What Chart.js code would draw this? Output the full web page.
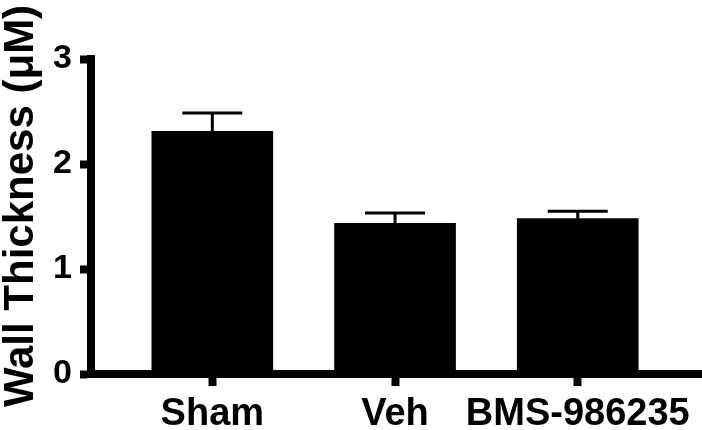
<!DOCTYPE html>
<html>
<head>
<meta charset="utf-8">
<script src="https://cdn.jsdelivr.net/npm/chart.js@4/dist/chart.umd.min.js"></script>
<style>
  html, body { margin: 0; padding: 0; background: #fff; }
</style>
</head>
<body>
<canvas id="wallChart" width="702" height="430"></canvas>
<script>
// --- data ---
const groups = ['Sham', 'Veh', 'BMS-986235'];
const means = [2.31, 1.435, 1.48];
const sem = [0.175, 0.098, 0.07];
const yTicks = [0, 1, 2, 3];
const yTitle = 'Wall Thickness (\u03bcM)';

const FONT = "'Liberation Sans', Arial, sans-serif";
Chart.defaults.color = '#000';
Chart.defaults.font.family = FONT;

// error bars (upper half only, like the prism plot)
const errorBars = {
  id: 'errorBars',
  afterDatasetsDraw(chart) {
    const ctx = chart.ctx;
    const y = chart.scales.y;
    const meta = chart.getDatasetMeta(0);
    ctx.save();
    ctx.strokeStyle = '#000';
    ctx.lineWidth = 3;
    meta.data.forEach(function(bar, i) {
      const yTop = y.getPixelForValue(means[i] + sem[i]);
      const yBar = y.getPixelForValue(means[i]);
      ctx.beginPath();
      ctx.moveTo(bar.x, yBar);
      ctx.lineTo(bar.x, yTop);
      ctx.moveTo(bar.x - 30, yTop);
      ctx.lineTo(bar.x + 30, yTop);
      ctx.stroke();
    });
    ctx.restore();
  }
};

// rotated y title, placed a bit above the axis centre as in the original
const yTitlePlugin = {
  id: 'yTitle',
  afterDraw(chart) {
    const ctx = chart.ctx;
    ctx.save();
    ctx.translate(33, 206);
    ctx.rotate(-Math.PI / 2);
    ctx.font = 'bold 42px ' + FONT;
    ctx.fillStyle = '#000';
    ctx.textAlign = 'center';
    ctx.textBaseline = 'alphabetic';
    ctx.fillText(yTitle, 0, 0);
    ctx.restore();
  }
};

new Chart(document.getElementById('wallChart'), {
  type: 'bar',
  data: {
    datasets: [{
      data: means.map(function(v, i) { return { x: i, y: v }; }),
      backgroundColor: '#000',
      borderWidth: 0,
      barThickness: 121
    }]
  },
  plugins: [errorBars, yTitlePlugin],
  options: {
    responsive: false,
    animation: false,
    layout: { padding: { left: 53, top: 59, right: 0, bottom: 0 } },
    plugins: {
      legend: { display: false },
      tooltip: { enabled: false }
    },
    scales: {
      x: {
        type: 'linear',
        offset: false,
        min: -0.664,
        max: 2.68,
        afterFit: function(scale) { scale.height = 56; },
        border: { width: 8, color: '#000' },
        grid: { offset: false, drawOnChartArea: false, tickLength: 12, tickWidth: 8, tickColor: '#000' },
        ticks: {
          stepSize: 1,
          includeBounds: false,
          autoSkip: false,
          maxRotation: 0,
          minRotation: 0,
          padding: 10,
          font: { size: 38, weight: 'bold', lineHeight: 1 },
          callback: function(v) { return groups[v]; }
        }
      },
      y: {
        min: yTicks[0],
        max: yTicks[yTicks.length - 1],
        afterFit: function(scale) { scale.width = 38; },
        border: { width: 8, color: '#000' },
        grid: { drawOnChartArea: false, tickLength: 11, tickWidth: 8, tickColor: '#000' },
        ticks: {
          stepSize: 1,
          padding: 8,
          font: { size: 34, weight: 'bold' }
        }
      }
    }
  }
});
</script>
</body>
</html>
